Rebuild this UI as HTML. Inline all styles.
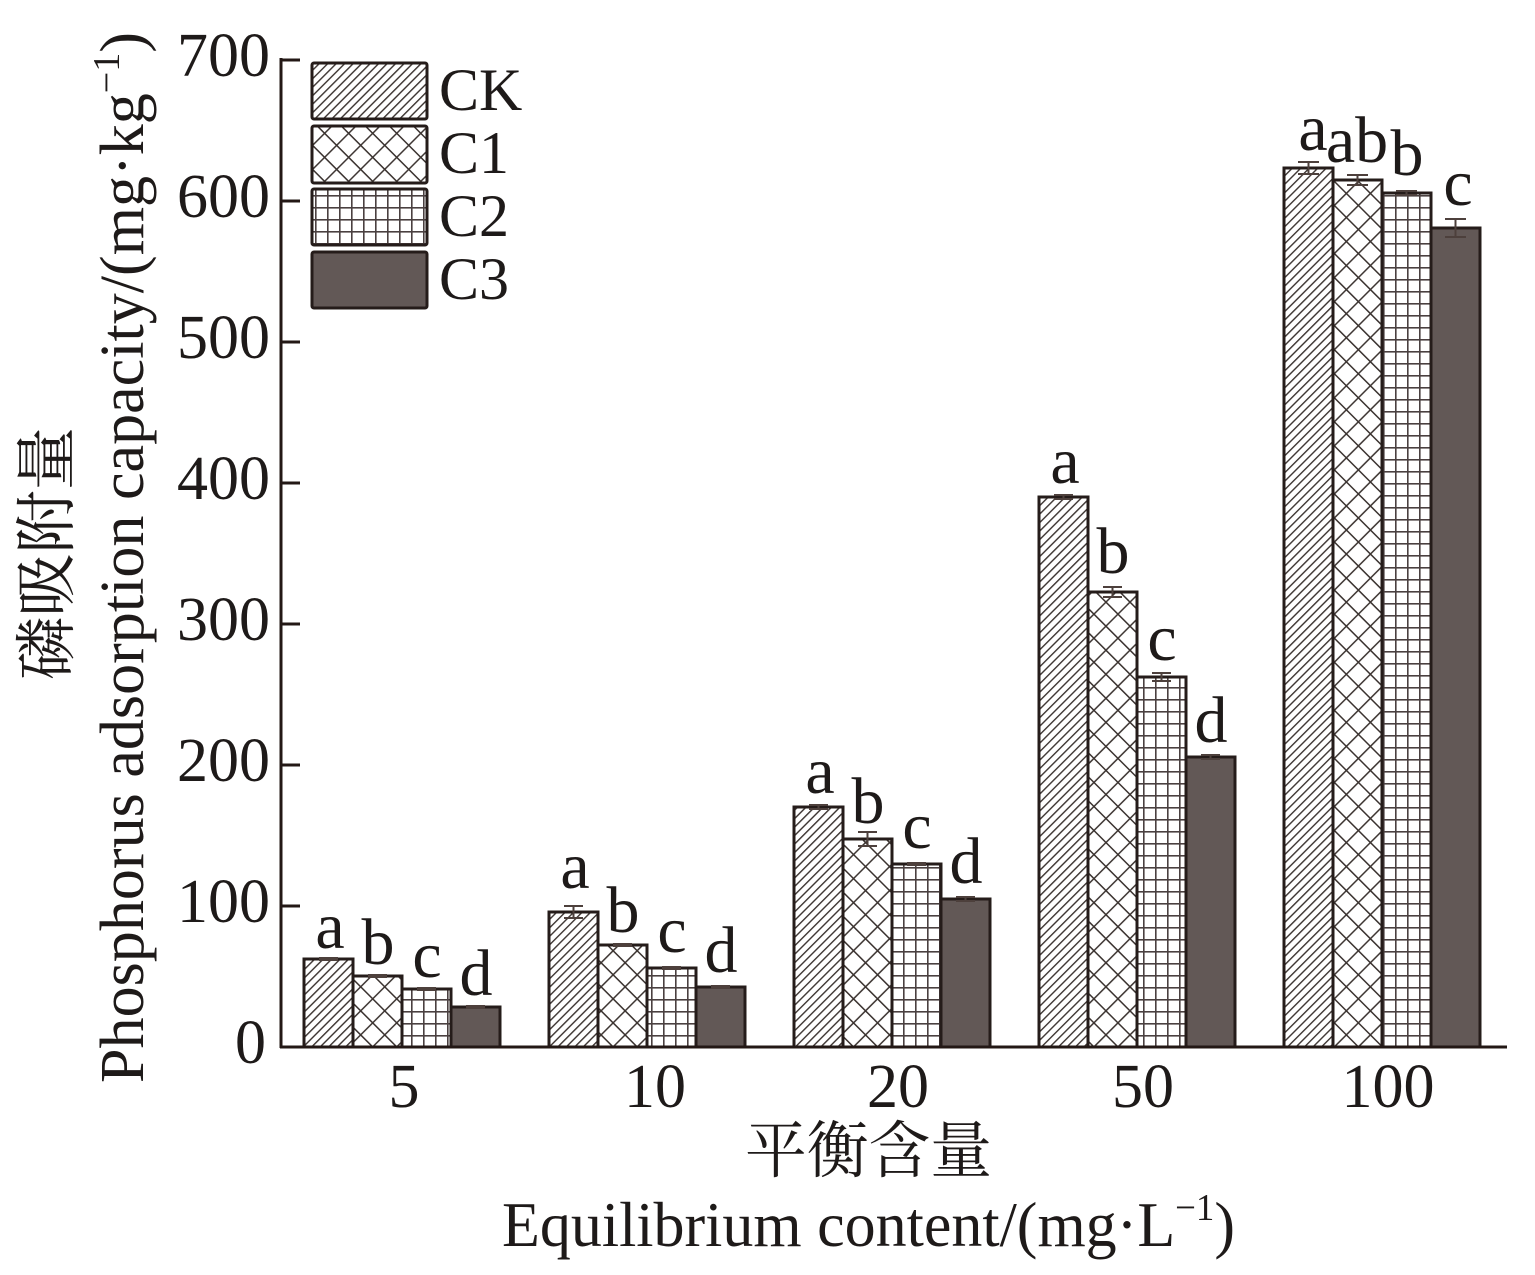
<!DOCTYPE html>
<html>
<head>
<meta charset="utf-8">
<style>
  html,body{margin:0;padding:0;background:#fff;}
  svg{display:block;}
  text{font-family:"Liberation Serif","Noto Serif CJK SC",serif;fill:#1e1a19;}
  .cjk{font-family:"Liberation Serif","Noto Serif CJK SC","Noto Sans CJK SC",serif;}
</style>
</head>
<body>
<svg width="1535" height="1275" viewBox="0 0 1535 1275" xmlns="http://www.w3.org/2000/svg">
  <defs>
    <pattern id="pCK" patternUnits="userSpaceOnUse" width="6" height="6" patternTransform="rotate(45)">
      <rect width="6" height="6" fill="#fff"/>
      <line x1="0.7" y1="0" x2="0.7" y2="6" stroke="#3b3330" stroke-width="1.4"/>
    </pattern>
    <pattern id="pC1" patternUnits="userSpaceOnUse" width="17" height="17" patternTransform="rotate(45)">
      <rect width="17" height="17" fill="#fff"/>
      <line x1="0.8" y1="0" x2="0.8" y2="17" stroke="#3b3330" stroke-width="1.5"/>
      <line x1="0" y1="0.8" x2="17" y2="0.8" stroke="#3b3330" stroke-width="1.5"/>
    </pattern>
    <pattern id="pC2" patternUnits="userSpaceOnUse" width="12" height="12" x="3" y="3">
      <rect width="12" height="12" fill="#fff"/>
      <line x1="0.8" y1="0" x2="0.8" y2="12" stroke="#4a4040" stroke-width="1.6"/>
      <line x1="0" y1="0.8" x2="12" y2="0.8" stroke="#4a4040" stroke-width="1.6"/>
    </pattern>
  </defs>

  <!-- Bars -->
  <g stroke="#251c1a" stroke-width="3">
    <rect x="304" y="959" width="49" height="88" fill="url(#pCK)"/>
    <rect x="353" y="976" width="49" height="71" fill="url(#pC1)"/>
    <rect x="402" y="989" width="49" height="58" fill="url(#pC2)"/>
    <rect x="451" y="1007" width="49" height="40" fill="#625856"/>

    <rect x="549" y="912" width="49" height="135" fill="url(#pCK)"/>
    <rect x="598" y="945" width="49" height="102" fill="url(#pC1)"/>
    <rect x="647" y="968" width="49" height="79" fill="url(#pC2)"/>
    <rect x="696" y="987" width="49" height="60" fill="#625856"/>

    <rect x="794" y="807" width="49" height="240" fill="url(#pCK)"/>
    <rect x="843" y="839" width="49" height="208" fill="url(#pC1)"/>
    <rect x="892" y="864" width="49" height="183" fill="url(#pC2)"/>
    <rect x="941" y="899" width="49" height="148" fill="#625856"/>

    <rect x="1039" y="497" width="49" height="550" fill="url(#pCK)"/>
    <rect x="1088" y="592" width="49" height="455" fill="url(#pC1)"/>
    <rect x="1137" y="677" width="49" height="370" fill="url(#pC2)"/>
    <rect x="1186" y="757" width="49" height="290" fill="#625856"/>

    <rect x="1284" y="168" width="49" height="879" fill="url(#pCK)"/>
    <rect x="1333" y="180" width="49" height="867" fill="url(#pC1)"/>
    <rect x="1382" y="193" width="49" height="854" fill="url(#pC2)"/>
    <rect x="1431" y="228" width="49" height="819" fill="#625856"/>
  </g>

  <!-- Error bars -->
  <g stroke="#4d403c" stroke-width="2" fill="none">
    <path d="M328.5 958v2M319 958h19M319 960h19"/>
    <path d="M377.5 975v2M368 975h19M368 977h19"/>
    <path d="M426.5 988v2M417 988h19M417 990h19"/>
    <path d="M475.5 1006v2M466 1006h19M466 1008h19"/>

    <path d="M573.5 906v12M564 906h19M564 918h19"/>
    <path d="M622.5 944v2M613 944h19M613 946h19"/>
    <path d="M671.5 967v2M662 967h19M662 969h19"/>
    <path d="M720.5 986v2M711 986h19M711 988h19"/>

    <path d="M818.5 805v4M809 805h19M809 809h19"/>
    <path d="M867.5 832v14M858 832h19M858 846h19"/>
    <path d="M916.5 863v2M907 863h19M907 865h19"/>
    <path d="M965.5 897v4M956 897h19M956 901h19"/>

    <path d="M1063.5 495v4M1054 495h19M1054 499h19"/>
    <path d="M1112.5 587v10M1103 587h19M1103 597h19"/>
    <path d="M1161.5 673v8M1152 673h19M1152 681h19"/>
    <path d="M1210.5 755v4M1201 755h19M1201 759h19"/>

    <path d="M1308.5 162v12M1298 162h21M1298 174h21"/>
    <path d="M1357.5 175v10M1347 175h21M1347 185h21"/>
    <path d="M1406.5 191v4M1396 191h21M1396 195h21"/>
    <path d="M1455.5 219v18M1445 219h21M1445 237h21"/>
  </g>

  <!-- Axes -->
  <g stroke="#231815" stroke-width="3" fill="none">
    <line x1="281" y1="58" x2="281" y2="1048"/>
    <line x1="280" y1="1047" x2="1507" y2="1047"/>
    <line x1="281" y1="60" x2="300" y2="60"/>
    <line x1="281" y1="201" x2="300" y2="201"/>
    <line x1="281" y1="342" x2="300" y2="342"/>
    <line x1="281" y1="483" x2="300" y2="483"/>
    <line x1="281" y1="624" x2="300" y2="624"/>
    <line x1="281" y1="765" x2="300" y2="765"/>
    <line x1="281" y1="906" x2="300" y2="906"/>
  </g>

  <!-- Y tick labels -->
  <g font-size="62" text-anchor="end">
    <text x="270" y="76">700</text>
    <text x="270" y="217">600</text>
    <text x="270" y="358">500</text>
    <text x="270" y="499">400</text>
    <text x="270" y="640">300</text>
    <text x="270" y="781">200</text>
    <text x="270" y="922">100</text>
    <text x="266" y="1063">0</text>
  </g>

  <!-- X tick labels -->
  <g font-size="62" text-anchor="middle">
    <text x="404" y="1107">5</text>
    <text x="655" y="1107">10</text>
    <text x="898" y="1107">20</text>
    <text x="1143" y="1107">50</text>
    <text x="1388" y="1107">100</text>
  </g>

  <!-- Significance letters -->
  <g font-size="66" text-anchor="middle">
    <text x="330" y="948">a</text>
    <text x="378" y="964">b</text>
    <text x="427" y="977">c</text>
    <text x="476" y="995">d</text>

    <text x="575" y="888">a</text>
    <text x="623" y="932">b</text>
    <text x="672" y="952">c</text>
    <text x="721" y="972">d</text>

    <text x="820" y="793">a</text>
    <text x="868" y="823">b</text>
    <text x="917" y="848">c</text>
    <text x="966" y="883">d</text>

    <text x="1065" y="483">a</text>
    <text x="1113" y="573">b</text>
    <text x="1162" y="660">c</text>
    <text x="1211" y="742">d</text>

    <text x="1313" y="150">a</text>
    <text x="1357" y="162">ab</text>
    <text x="1407" y="175">b</text>
    <text x="1458" y="205">c</text>
  </g>

  <!-- Legend -->
  <g stroke="#251c1a" stroke-width="3">
    <rect x="312" y="63" width="115" height="56" rx="2" fill="url(#pCK)"/>
    <rect x="312" y="126" width="115" height="57" rx="2" fill="url(#pC1)"/>
    <rect x="312" y="189" width="115" height="56" rx="2" fill="url(#pC2)"/>
    <rect x="312" y="252" width="115" height="56" rx="2" fill="#625856"/>
  </g>
  <g font-size="60">
    <text x="439" y="110">CK</text>
    <text x="439" y="173">C1</text>
    <text x="439" y="236">C2</text>
    <text x="439" y="299">C3</text>
  </g>

  <!-- Y axis titles -->
  <text class="cjk" font-size="62" transform="translate(68,680) rotate(-90)" textLength="253" lengthAdjust="spacingAndGlyphs">磷吸附量</text>
  <text font-size="62" transform="translate(143,1083) rotate(-90)" textLength="1051" lengthAdjust="spacingAndGlyphs">Phosphorus adsorption capacity/(mg·kg<tspan font-size="38" dy="-24">−1</tspan><tspan dy="24">)</tspan></text>

  <!-- X axis titles -->
  <text class="cjk" font-size="62" x="745" y="1172" textLength="247" lengthAdjust="spacingAndGlyphs">平衡含量</text>
  <text font-size="64" x="502" y="1246" textLength="733" lengthAdjust="spacingAndGlyphs">Equilibrium content/(mg·L<tspan font-size="38" dy="-26">−1</tspan><tspan dy="26">)</tspan></text>
</svg>
</body>
</html>
